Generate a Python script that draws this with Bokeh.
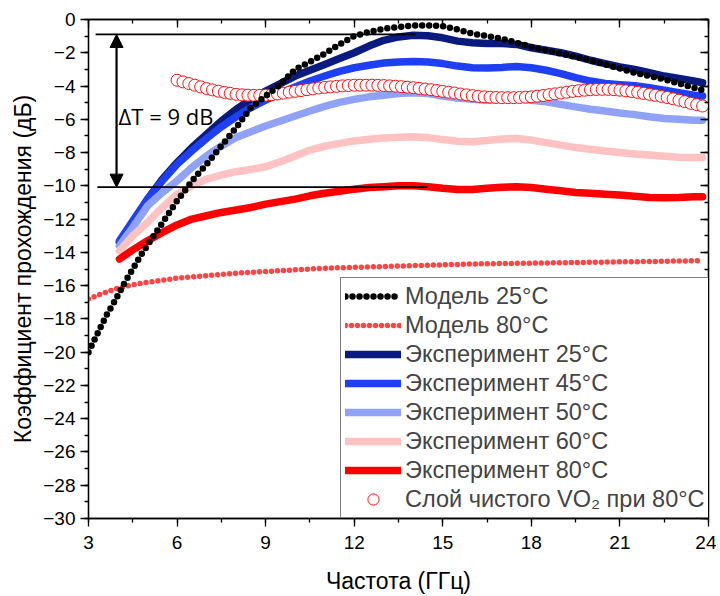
from bokeh.plotting import figure
from bokeh.models import (LinearAxis, Range1d, Legend, LegendItem, Arrow, NormalHead,
                          Label, SingleIntervalTicker, CustomJSTickFormatter)
from bokeh.embed import file_html
from bokeh.resources import INLINE

# ---------------- data ----------------
m25_freq = [3.0, 3.3, 3.6, 3.9, 4.2, 4.5, 4.8, 5.1, 5.4, 5.7, 6.0, 6.3, 6.6,
            7.0, 7.5, 8.0, 8.5, 9.0, 9.5, 10.0, 10.5, 11.0, 11.5, 12.0, 12.5, 13.0,
            13.5, 14.0, 14.5, 15.0, 15.5, 16.0, 16.5, 17.0, 17.5, 18.0, 18.5, 19.0,
            19.5, 20.0, 20.5, 21.0, 21.5, 22.0, 22.5, 23.0, 23.5, 23.8]
model_25 = [-20.0, -18.9, -17.8, -16.9, -15.9, -15.0, -14.1, -13.3, -12.5, -11.7, -10.9, -10.2, -9.5,
            -8.7, -7.6, -6.5, -5.3, -4.6, -3.9, -3.0, -2.55, -2.05, -1.5, -1.0, -0.75, -0.55,
            -0.45, -0.37, -0.35, -0.4, -0.6, -0.85, -1.0, -1.15, -1.4, -1.65, -1.85, -2.05,
            -2.25, -2.45, -2.7, -2.95, -3.2, -3.4, -3.6, -3.85, -4.1, -4.25]

m80_freq = [3.0, 3.5, 4.0, 4.5, 5.0, 6.0, 7.0, 8.0, 9.0, 10.0, 11.0, 12.0, 13.0, 14.0,
            15.0, 16.0, 17.0, 18.0, 19.0, 20.0, 21.0, 22.0, 23.0, 23.8]
model_80 = [-16.8, -16.45, -16.15, -15.95, -15.8, -15.55, -15.4, -15.25, -15.15, -15.05,
            -14.95, -14.9, -14.85, -14.8, -14.75, -14.7, -14.67, -14.65, -14.62, -14.6,
            -14.57, -14.55, -14.52, -14.5]

exp_freq = [4.05, 4.5, 5.0, 5.5, 6.0, 6.5, 7.0, 7.5, 8.0, 8.5, 9.0, 9.5, 10.0, 10.5, 11.0,
            11.5, 12.0, 12.5, 13.0, 13.5, 14.0, 14.5, 15.0, 15.5, 16.0, 16.5, 17.0, 17.5,
            18.0, 18.5, 19.0, 19.5, 20.0, 20.5, 21.0, 21.5, 22.0, 22.5, 23.0, 23.5, 23.8]
exp_25 = [-13.4, -12.2, -10.8, -9.6, -8.6, -7.7, -6.9, -6.1, -5.4, -4.8, -4.3, -3.85, -3.4,
          -3.05, -2.7, -2.35, -2.0, -1.6, -1.25, -1.05, -0.95, -0.98, -1.1, -1.3, -1.4, -1.45,
          -1.45, -1.5, -1.7, -1.85, -2.0, -2.2, -2.45, -2.65, -2.85, -3.0, -3.2, -3.4, -3.55,
          -3.7, -3.8]
exp_45 = [-13.3, -12.1, -10.8, -9.7, -8.7, -7.9, -7.15, -6.45, -5.85, -5.3, -4.85, -4.45, -4.05,
          -3.7, -3.4, -3.12, -2.9, -2.75, -2.62, -2.55, -2.53, -2.55, -2.65, -2.8, -2.9, -2.92,
          -2.88, -2.82, -2.9, -3.05, -3.25, -3.5, -3.7, -3.85, -3.92, -3.98, -4.1, -4.25, -4.4,
          -4.55, -4.6]
exp_50 = [-13.6, -12.5, -11.2, -10.4, -9.7, -8.9, -8.2, -7.6, -7.1, -6.75, -6.4, -6.1, -5.8,
          -5.5, -5.22, -4.98, -4.8, -4.65, -4.55, -4.45, -4.4, -4.45, -4.6, -4.72, -4.8, -4.85,
          -4.8, -4.75, -4.85, -4.95, -5.1, -5.25, -5.4, -5.5, -5.62, -5.72, -5.85, -5.95, -6.0,
          -6.05, -6.05]
exp_60 = [-13.9, -13.0, -12.2, -11.3, -10.5, -10.0, -9.6, -9.35, -9.15, -9.02, -8.85, -8.55, -8.2,
          -7.85, -7.62, -7.45, -7.3, -7.2, -7.12, -7.08, -7.05, -7.1, -7.22, -7.32, -7.35, -7.28,
          -7.18, -7.15, -7.25, -7.4, -7.55, -7.7, -7.8, -7.9, -8.0, -8.08, -8.15, -8.22, -8.28,
          -8.3, -8.3]
exp_80 = [-14.4, -13.85, -13.3, -12.8, -12.35, -12.0, -11.8, -11.6, -11.45, -11.3, -11.1, -10.95,
          -10.8, -10.6, -10.45, -10.33, -10.2, -10.1, -10.05, -10.0, -10.0, -10.05, -10.15,
          -10.22, -10.22, -10.15, -10.08, -10.05, -10.1, -10.2, -10.3, -10.4, -10.45, -10.5,
          -10.55, -10.62, -10.7, -10.72, -10.7, -10.65, -10.65]

vo2_freq = [6.0, 6.2, 6.4, 6.6, 6.8, 7.0, 7.2, 7.4, 7.6, 7.8, 8.0, 8.2, 8.4, 8.6, 8.8,
            9.0, 9.2, 9.4, 9.6, 9.8, 10.0, 10.2, 10.4, 10.6, 10.8, 11.0, 11.2, 11.4, 11.6, 11.8,
            12.0, 12.2, 12.4, 12.6, 12.8, 13.0, 13.2, 13.4, 13.6, 13.8, 14.0, 14.2, 14.4, 14.6, 14.8,
            15.0, 15.2, 15.4, 15.6, 15.8, 16.0, 16.2, 16.4, 16.6, 16.8, 17.0, 17.2, 17.4, 17.6, 17.8,
            18.0, 18.2, 18.4, 18.6, 18.8, 19.0, 19.2, 19.4, 19.6, 19.8, 20.0, 20.2, 20.4, 20.6, 20.8,
            21.0, 21.2, 21.4, 21.6, 21.8, 22.0, 22.2, 22.4, 22.6, 22.8, 23.0, 23.2, 23.4, 23.6, 23.8]
vo2_80 = [-3.65, -3.75, -3.85, -3.95, -4.05, -4.15, -4.23, -4.31, -4.38, -4.44, -4.5, -4.53, -4.55, -4.56, -4.56,
          -4.55, -4.52, -4.48, -4.43, -4.37, -4.32, -4.27, -4.22, -4.17, -4.12, -4.08, -4.05, -4.02, -3.99, -3.97,
          -3.95, -3.95, -3.95, -3.95, -3.96, -3.97, -3.99, -4.01, -4.04, -4.07, -4.1, -4.14, -4.18, -4.22, -4.27,
          -4.32, -4.37, -4.42, -4.48, -4.53, -4.58, -4.62, -4.65, -4.67, -4.69, -4.7, -4.7, -4.7, -4.69, -4.67,
          -4.65, -4.61, -4.57, -4.52, -4.47, -4.42, -4.37, -4.32, -4.28, -4.25, -4.22, -4.21, -4.2, -4.2, -4.22,
          -4.25, -4.29, -4.33, -4.38, -4.44, -4.5, -4.56, -4.62, -4.69, -4.77, -4.85, -4.94, -5.04, -5.12, -5.2]

# annotation values (ΔT = 9 dB)
level_hi = -0.9
level_lo = -10.08
hi_line_x = [3.24, 14.08]
lo_line_x = [3.3, 14.48]
arrow_x = 3.95
delta_text = "ΔT = 9 dB"
delta_text_pos = (4.02, -5.8)

labels = ["Модель 25°C", "Модель 80°C", "Эксперимент 25°C", "Эксперимент 45°C",
          "Эксперимент 50°C", "Эксперимент 60°C", "Эксперимент 80°C",
          "Слой чистого VO₂ при 80°C"]

# ---------------- figure ----------------
FONT = "Liberation Sans"
p = figure(width=716, height=596, x_range=Range1d(3, 24), y_range=Range1d(-30, 0),
           output_backend="svg", toolbar_location=None,
           min_border_left=88, min_border_right=8, min_border_top=19, min_border_bottom=77)
p.xgrid.visible = False
p.ygrid.visible = False
p.outline_line_color = "black"
p.outline_line_width = 1.3
p.background_fill_color = "white"
p.border_fill_color = "white"

xt = SingleIntervalTicker(interval=3, num_minor_ticks=2)
yt = SingleIntervalTicker(interval=2, num_minor_ticks=2)

for ax, tk in ((p.xaxis[0], xt), (p.yaxis[0], yt)):
    ax.ticker = tk
    ax.axis_line_width = 1.3
    ax.major_tick_line_width = 1.3
    ax.minor_tick_line_width = 1.3
    ax.major_tick_out = 8
    ax.major_tick_in = 0
    ax.minor_tick_out = 4
    ax.minor_tick_in = 0
    ax.major_label_text_font = FONT
    ax.major_label_text_font_size = "19px"
    ax.major_label_text_color = "black"
    ax.axis_label_text_font = FONT
    ax.axis_label_text_font_size = "23px"
    ax.axis_label_text_font_style = "normal"
    ax.axis_label_text_color = "black"

p.xaxis.axis_label = "Частота (ГГц)"
p.yaxis.axis_label = "Коэффициент прохождения (дБ)"
p.xaxis.major_label_standoff = 9
p.xaxis.axis_label_standoff = 16
p.yaxis.major_label_standoff = 5
p.yaxis.axis_label_standoff = 4

blank = CustomJSTickFormatter(code="return ''")
for loc, tk in (("above", xt), ("right", yt)):
    ax = LinearAxis(ticker=tk, formatter=blank, axis_line_width=1.3, major_tick_line_width=1.3,
                    minor_tick_line_width=1.3, major_tick_in=8, major_tick_out=0,
                    minor_tick_in=4, minor_tick_out=0, major_label_standoff=0,
                    axis_label_standoff=0)
    p.add_layout(ax, loc)

# experiment curves
c_navy, c_blue, c_lblue, c_pink, c_red = "#0b1a7e", "#1f40f2", "#8fa2f6", "#ffc2c2", "#ff0000"
LW = 7.5
r_e25 = p.line(exp_freq, exp_25, line_color=c_navy, line_width=LW, line_join="round", line_cap="round")
r_e45 = p.line(exp_freq, exp_45, line_color=c_blue, line_width=LW, line_join="round", line_cap="round")
r_e50 = p.line(exp_freq, exp_50, line_color=c_lblue, line_width=LW, line_join="round", line_cap="round")
r_e60 = p.line(exp_freq, exp_60, line_color=c_pink, line_width=LW, line_join="round", line_cap="round")
r_e80 = p.line(exp_freq, exp_80, line_color=c_red, line_width=LW, line_join="round", line_cap="round")

# model 80 dots
r_m80 = p.line(m80_freq, model_80, line_color="#ff4444", line_width=5.5, line_dash="0 6",
               line_cap="round")

# annotation lines
p.segment(x0=[hi_line_x[0], lo_line_x[0]], y0=[level_hi, level_lo],
          x1=[hi_line_x[1], lo_line_x[1]], y1=[level_hi, level_lo],
          line_color="black", line_width=1.8)
p.add_layout(Arrow(start=NormalHead(size=13, fill_color="black", line_color="black"),
                   end=NormalHead(size=13, fill_color="black", line_color="black"),
                   x_start=arrow_x, y_start=level_hi, x_end=arrow_x, y_end=level_lo,
                   line_color="black", line_width=2.2))
p.add_layout(Label(x=delta_text_pos[0], y=delta_text_pos[1], text=delta_text,
                   text_font="Open Sans", text_font_size="22px",
                   text_baseline="middle", text_color="black"))

# VO2 circles
r_vo2 = p.scatter(vo2_freq, vo2_80, marker="circle", size=12, line_color="#ff1010",
                  line_width=1, fill_color="white")

# model 25 dots
r_m25 = p.line(m25_freq, model_25, line_color="black", line_width=6.5, line_dash="0 7",
               line_cap="round")

legend = Legend(items=[LegendItem(label=labels[0], renderers=[r_m25]),
                       LegendItem(label=labels[1], renderers=[r_m80]),
                       LegendItem(label=labels[2], renderers=[r_e25]),
                       LegendItem(label=labels[3], renderers=[r_e45]),
                       LegendItem(label=labels[4], renderers=[r_e50]),
                       LegendItem(label=labels[5], renderers=[r_e60]),
                       LegendItem(label=labels[6], renderers=[r_e80]),
                       LegendItem(label=labels[7], renderers=[r_vo2])],
                location=(252, 0), label_text_font=FONT, label_text_font_size="23.5px",
                glyph_width=56, glyph_height=28, label_height=28, spacing=1, padding=4,
                label_standoff=4, border_line_color="black", border_line_width=1.3,
                background_fill_color="white", background_fill_alpha=1.0, margin=0)
p.add_layout(legend)

open("out.html", "w").write(file_html(p, INLINE))
